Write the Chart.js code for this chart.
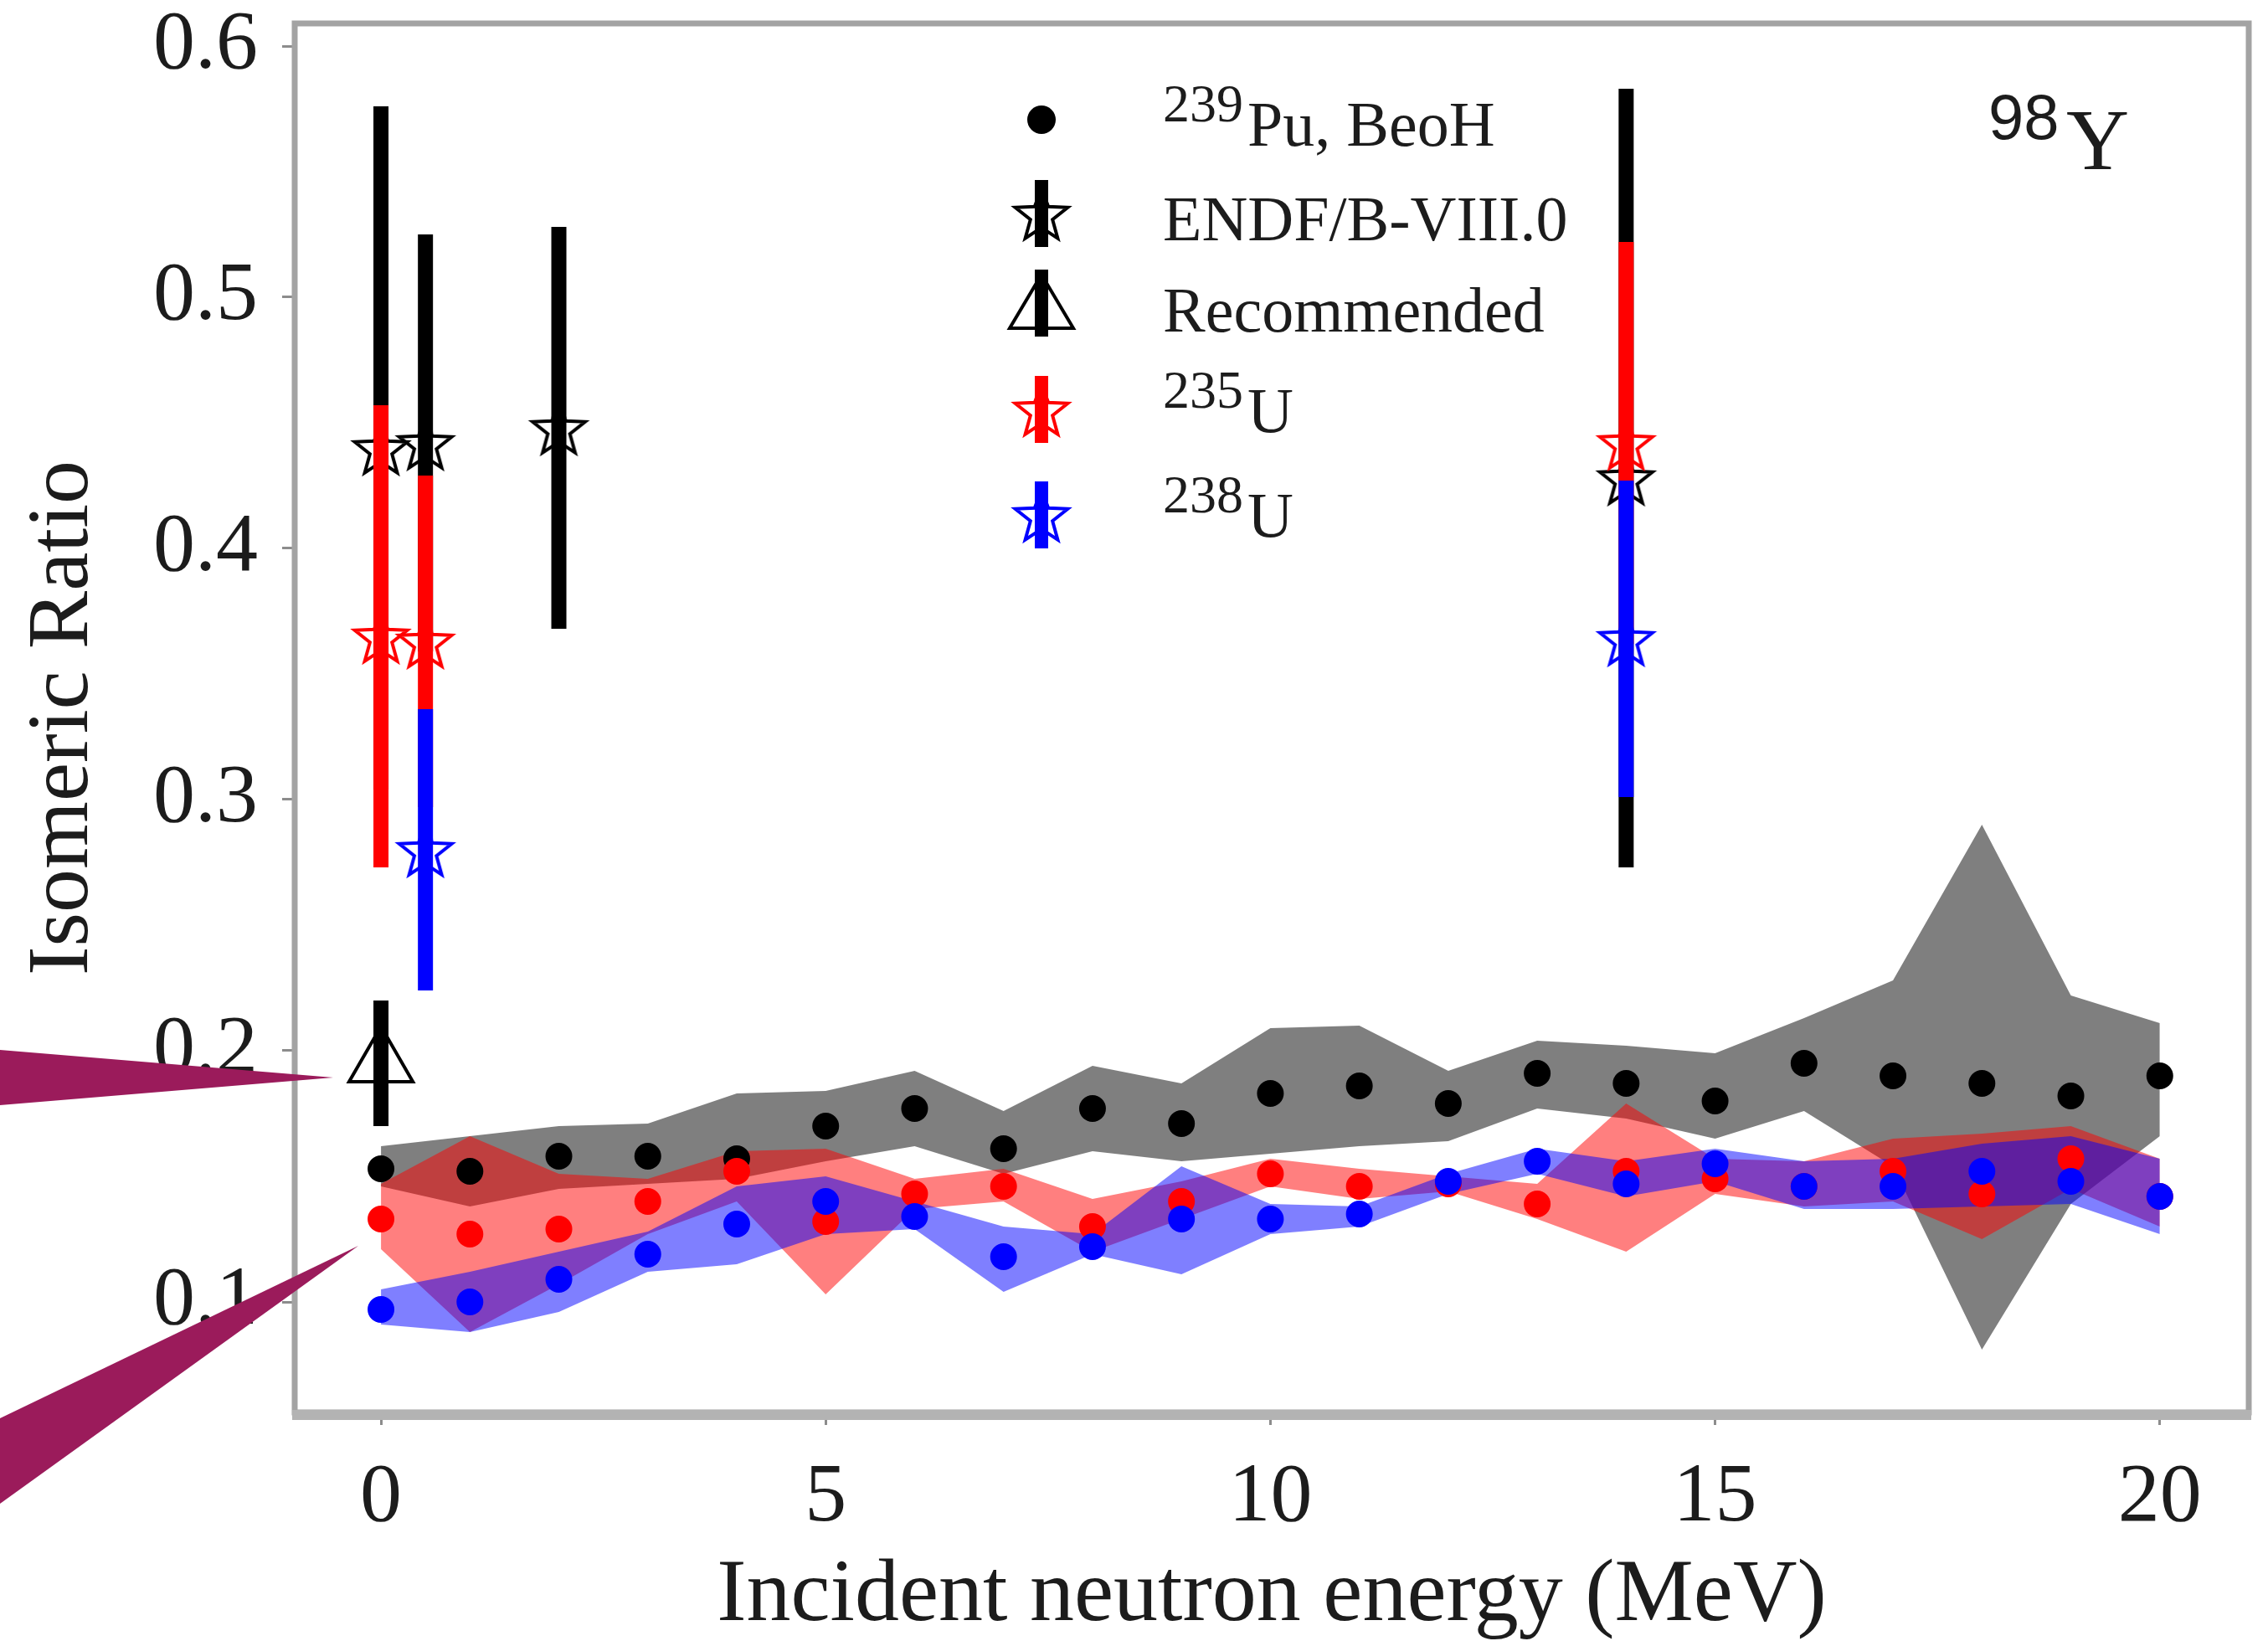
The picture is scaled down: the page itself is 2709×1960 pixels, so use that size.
<!DOCTYPE html>
<html>
<head>
<meta charset="utf-8">
<script src="https://cdn.jsdelivr.net/npm/chart.js@4.4.1/dist/chart.umd.min.js"></script>
<style>
  html, body { margin: 0; padding: 0; background: #fff; }
  canvas { display: block; }
</style>
</head>
<body>
<canvas id="ratio" width="2709" height="1960"></canvas>
<script>
// incident energies of the BeoH calculation (MeV)
const energies = [0, 1, 2, 3, 4, 5, 6, 7, 8, 9, 10, 11, 12, 13, 14, 15, 16, 17, 18, 19, 20];

// 239Pu, BeoH
const pu239 =     [0.153, 0.152, 0.158, 0.158, 0.157, 0.170, 0.177, 0.161, 0.177, 0.171, 0.183, 0.186, 0.179, 0.191, 0.187, 0.180, 0.195, 0.190, 0.187, 0.182, 0.190];
const pu239High = [0.162, 0.166, 0.170, 0.171, 0.183, 0.184, 0.192, 0.176, 0.194, 0.187, 0.209, 0.210, 0.192, 0.204, 0.202, 0.199, 0.213, 0.228, 0.290, 0.222, 0.211];
const pu239Low =  [0.146, 0.138, 0.145, 0.147, 0.149, 0.156, 0.162, 0.151, 0.160, 0.156, 0.159, 0.162, 0.164, 0.177, 0.173, 0.165, 0.176, 0.154, 0.081, 0.139, 0.166];

// 235U, BeoH
const u235 =      [0.133, 0.127, 0.129, 0.140, 0.152, 0.132, 0.143, 0.146, 0.130, 0.140, 0.151, 0.146, 0.147, 0.139, 0.152, 0.149, 0.146, 0.152, 0.143, 0.157, 0.142];
const u235High =  [0.147, 0.166, 0.151, 0.149, 0.160, 0.161, 0.149, 0.153, 0.141, 0.148, 0.157, 0.153, 0.150, 0.147, 0.179, 0.157, 0.156, 0.165, 0.167, 0.170, 0.157];
const u235Low =   [0.121, 0.088, 0.107, 0.127, 0.140, 0.103, 0.137, 0.140, 0.120, 0.133, 0.146, 0.141, 0.144, 0.133, 0.120, 0.143, 0.138, 0.140, 0.125, 0.145, 0.130];

// 238U, BeoH
const u238 =      [0.097, 0.100, 0.109, 0.119, 0.131, 0.140, 0.134, 0.118, 0.122, 0.133, 0.133, 0.135, 0.148, 0.156, 0.147, 0.155, 0.146, 0.146, 0.152, 0.148, 0.142];
const u238High =  [0.105, 0.112, 0.120, 0.128, 0.146, 0.150, 0.140, 0.130, 0.127, 0.154, 0.139, 0.138, 0.151, 0.161, 0.156, 0.161, 0.156, 0.157, 0.163, 0.166, 0.157];
const u238Low =   [0.091, 0.088, 0.096, 0.112, 0.115, 0.127, 0.129, 0.104, 0.119, 0.111, 0.127, 0.130, 0.143, 0.151, 0.142, 0.148, 0.137, 0.137, 0.138, 0.139, 0.127];

// evaluated / measured points with error bars
const endfE = [0, 0.5, 2, 14];
const endfRatio = [0.440, 0.442, 0.448, 0.428];
const endfErr = [0.136, 0.083, 0.080, 0.155];

const u235E = [0, 0.5, 14];
const u235Ratio = [0.365, 0.363, 0.442];
const u235Err = [0.092, 0.066, 0.080];

const u238E = [0.5, 14];
const u238Ratio = [0.280, 0.364];
const u238Err = [0.056, 0.063];

const recE = [0];
const recRatio = [0.195];
const recErr = [0.025];

const xTicks = [0, 5, 10, 15, 20];
const xTickLabels = ['0', '5', '10', '15', '20'];
const yTicks = [0.1, 0.2, 0.3, 0.4, 0.5, 0.6];
const yTickLabels = ['0.1', '0.2', '0.3', '0.4', '0.5', '0.6'];

const serif = '"Liberation Serif", "Times New Roman", serif';
const textColor = '#1c1c1c';

function pts(xs, ys) {
  return xs.map((x, i) => ({ x: x, y: ys[i] }));
}

// each error bar is a two point segment, split from the next one by a gap
function bars(xs, ys, es) {
  const d = [];
  xs.forEach((x, i) => {
    d.push({ x: x, y: ys[i] - es[i] }, { x: x, y: ys[i] + es[i] }, { x: x, y: null });
  });
  return d;
}

function makeStar(color) {
  const c = document.createElement('canvas');
  c.width = 80; c.height = 80;
  const g = c.getContext('2d');
  const R = 33, r = R * 0.42;
  g.beginPath();
  for (let k = 0; k < 10; k++) {
    const rr = k % 2 ? r : R;
    const a = -Math.PI / 2 + k * Math.PI / 5;
    const px = 40 + rr * Math.cos(a), py = 43 + rr * Math.sin(a);
    if (k) g.lineTo(px, py); else g.moveTo(px, py);
  }
  g.closePath();
  g.strokeStyle = color;
  g.lineWidth = 4;
  g.stroke();
  return c;
}

const starBlack = makeStar('#000');
const starRed = makeStar('#ff0000');
const starBlue = makeStar('#0000ff');

function band(hi, lo, color, order) {
  return [
    { data: pts(energies, hi), fill: '+1', backgroundColor: color, borderColor: 'transparent', borderWidth: 0, pointRadius: 0, order: order },
    { data: pts(energies, lo), fill: false, borderColor: 'transparent', borderWidth: 0, pointRadius: 0, order: order - 0.5 }
  ];
}

function dots(ys, color, order) {
  return { data: pts(energies, ys), showLine: false, pointRadius: 16, pointBackgroundColor: color, pointBorderWidth: 0, order: order };
}

function errLine(xs, ys, es, color, order) {
  return { data: bars(xs, ys, es), borderColor: color, borderWidth: 18, borderCapStyle: 'butt', pointRadius: 0, spanGaps: false, order: order };
}

function starPts(xs, ys, img, order) {
  return { data: pts(xs, ys), showLine: false, pointStyle: img, pointRadius: 30, order: order };
}

const datasets = [].concat(
  band(pu239High, pu239Low, 'rgba(0,0,0,0.5)', 100),
  band(u235High, u235Low, 'rgba(255,0,0,0.5)', 90),
  band(u238High, u238Low, 'rgba(0,0,255,0.5)', 80),
  [
    dots(pu239, '#000000', 70),
    dots(u235, '#ff0000', 69),
    dots(u238, '#0000ff', 68),
    errLine(endfE, endfRatio, endfErr, '#000000', 60),
    starPts(endfE, endfRatio, starBlack, 59),
    errLine(u235E, u235Ratio, u235Err, '#ff0000', 58),
    starPts(u235E, u235Ratio, starRed, 57),
    errLine(u238E, u238Ratio, u238Err, '#0000ff', 56),
    starPts(u238E, u238Ratio, starBlue, 55),
    errLine(recE, recRatio, recErr, '#000000', 54),
    { data: pts(recE, recRatio), showLine: false, pointStyle: 'triangle', pointRadius: 44,
      pointBackgroundColor: 'rgba(0,0,0,0)', pointBorderColor: '#000', pointBorderWidth: 4, order: 53 }
  ]
);

// frame, legend, nuclide label and the two pointer arrows
const decorations = {
  id: 'decorations',
  afterDraw(chart) {
    const ctx = chart.ctx;
    const a = chart.chartArea;
    ctx.save();

    ctx.strokeStyle = '#a3a3a3';
    ctx.lineWidth = 7;
    ctx.strokeRect(a.left, a.top, a.right - a.left, a.bottom - a.top);
    ctx.strokeStyle = '#b3b3b3';
    ctx.lineWidth = 12;
    ctx.beginPath();
    ctx.moveTo(a.left - 3, a.bottom + 3);
    ctx.lineTo(a.right + 3, a.bottom + 3);
    ctx.stroke();

    // legend
    const mx = 1244, tx = 1389, mainX = 1490;
    const rows = [
      { kind: 'dot', color: '#000', sup: '239', text: 'Pu, BeoH', my: 143, base: 174 },
      { kind: 'star', img: starBlack, color: '#000', sup: '', text: 'ENDF/B-VIII.0', my: 255, base: 287 },
      { kind: 'tri', color: '#000', sup: '', text: 'Recommended', my: 362, base: 396 },
      { kind: 'star', img: starRed, color: '#ff0000', sup: '235', text: 'U', my: 489, base: 516 },
      { kind: 'star', img: starBlue, color: '#0000ff', sup: '238', text: 'U', my: 615, base: 641 }
    ];
    rows.forEach(r => {
      if (r.kind === 'dot') {
        ctx.fillStyle = r.color;
        ctx.beginPath();
        ctx.arc(mx, r.my, 17, 0, Math.PI * 2);
        ctx.fill();
      } else {
        ctx.strokeStyle = r.color;
        ctx.lineWidth = 16;
        ctx.beginPath();
        ctx.moveTo(mx, r.my - 40);
        ctx.lineTo(mx, r.my + 40);
        ctx.stroke();
        if (r.kind === 'star') {
          ctx.drawImage(r.img, mx - 40, r.my - 40);
        } else {
          ctx.lineWidth = 4;
          ctx.beginPath();
          ctx.moveTo(mx, r.my - 34);
          ctx.lineTo(mx + 38, r.my + 30);
          ctx.lineTo(mx - 38, r.my + 30);
          ctx.closePath();
          ctx.stroke();
        }
      }
      ctx.fillStyle = textColor;
      ctx.textBaseline = 'alphabetic';
      ctx.textAlign = 'left';
      if (r.sup) {
        ctx.font = '64px ' + serif;
        ctx.fillText(r.sup, tx, r.base - 29);
        ctx.font = '76px ' + serif;
        ctx.fillText(r.text, mainX, r.base);
      } else {
        ctx.font = '76px ' + serif;
        ctx.fillText(r.text, tx, r.base);
      }
    });

    // nuclide label
    ctx.fillStyle = textColor;
    ctx.font = '76px "Liberation Sans", Arial, sans-serif';
    ctx.fillText('98', 2375, 166);
    ctx.font = '104px ' + serif;
    ctx.fillText('Y', 2468, 202);

    // pointer arrows
    ctx.fillStyle = '#9b1b5b';
    ctx.beginPath();
    ctx.moveTo(0, 1254);
    ctx.lineTo(398, 1287);
    ctx.lineTo(0, 1320);
    ctx.closePath();
    ctx.fill();
    ctx.beginPath();
    ctx.moveTo(0, 1694);
    ctx.lineTo(428, 1488);
    ctx.lineTo(0, 1796);
    ctx.closePath();
    ctx.fill();

    ctx.restore();
  }
};

new Chart(document.getElementById('ratio'), {
  type: 'line',
  data: { datasets: datasets },
  options: {
    responsive: false,
    animation: false,
    devicePixelRatio: 1,
    events: [],
    elements: { line: { tension: 0 } },
    layout: { autoPadding: false, padding: { left: 0, top: 28, right: 23, bottom: 0 } },
    plugins: {
      legend: { display: false },
      tooltip: { enabled: false }
    },
    scales: {
      x: {
        type: 'linear',
        min: -0.97,
        max: 21,
        afterBuildTicks(s) { s.ticks = xTicks.map(v => ({ value: v })); },
        afterFit(s) { s.height = 273; s.paddingLeft = 0; s.paddingRight = 0; },
        border: { display: false },
        grid: { drawOnChartArea: false, drawTicks: true, tickLength: 15, tickColor: '#8c8c8c', tickWidth: 3 },
        ticks: {
          autoSkip: false, maxRotation: 0, padding: 28, color: textColor,
          font: { family: serif, size: 100 },
          callback: (v) => xTickLabels[xTicks.indexOf(v)]
        },
        title: {
          display: true, text: 'Incident neutron energy (MeV)', color: textColor,
          font: { family: serif, size: 106, lineHeight: 1 },
          padding: { top: 0, bottom: 0 }
        }
      },
      y: {
        min: 0.056,
        max: 0.609,
        afterBuildTicks(s) { s.ticks = yTicks.map(v => ({ value: v })); },
        afterFit(s) { s.width = 352; s.paddingTop = 0; s.paddingBottom = 0; },
        border: { display: false },
        grid: { drawOnChartArea: false, drawTicks: true, tickLength: 15, tickColor: '#8c8c8c', tickWidth: 3 },
        ticks: {
          autoSkip: false, padding: 29, color: textColor,
          font: { family: serif, size: 100 },
          callback: (v) => yTickLabels[yTicks.indexOf(v)]
        },
        title: {
          display: true, text: 'Isomeric Ratio', color: textColor,
          font: { family: serif, size: 104, lineHeight: 1 },
          padding: { top: 25, bottom: 0 }
        }
      }
    }
  },
  plugins: [decorations]
});
</script>
</body>
</html>
